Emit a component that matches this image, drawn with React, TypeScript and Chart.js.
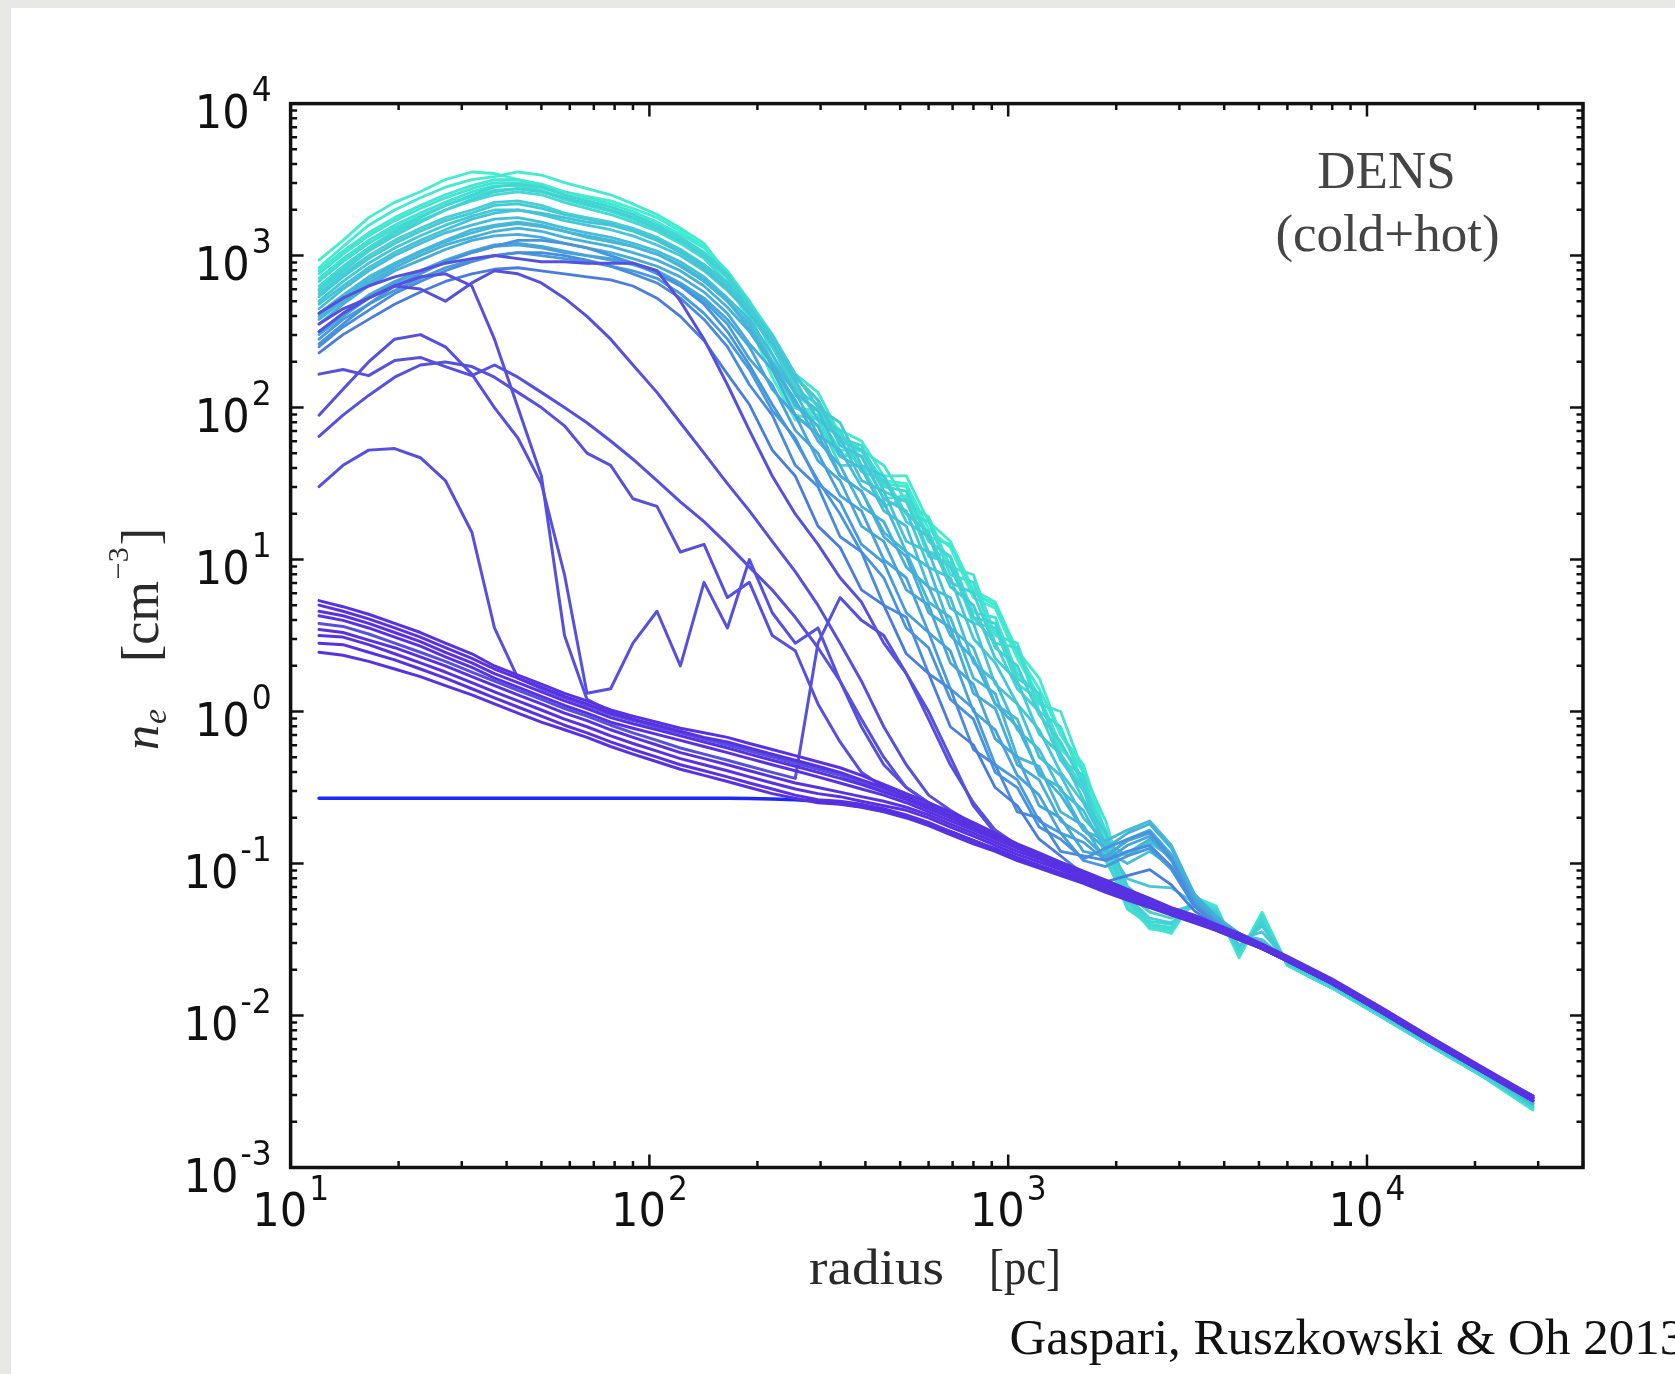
import React, { useEffect, useRef } from "react";
import { Chart, registerables } from "chart.js";

Chart.register(...registerables);

// ---------- axes ----------
const radiusPc = [
  12, 14, 16.5, 19.5, 23, 27, 32, 37, 43, 50,
  58, 67, 78, 90, 105, 122, 142, 165, 190, 220,
  255, 295, 340, 390, 450, 520, 600, 690, 800, 920,
  1060, 1220, 1400, 1620, 1870, 2150, 2480, 2850, 3300, 3800,
  4400, 5100, 6000, 8000, 11000, 15000, 21000, 29000,
];
const xTickExponents = [1, 2, 3, 4];
const yTickExponents = [-3, -2, -1, 0, 1, 2, 3, 4];
const xMin = 10;
const xMax = 40000;
const yMin = 1e-3;
const yMax = 1e4;

// ---------- log10(n_e) profiles ----------
const logNeInitial = [
  -0.57, -0.57, -0.57, -0.57, -0.57, -0.57, -0.57, -0.57, -0.57, -0.57,
  -0.57, -0.57, -0.57, -0.57, -0.57, -0.57, -0.57, -0.57, -0.572, -0.575,
  -0.58, -0.59, -0.605, -0.625, -0.655, -0.69, -0.74, -0.79, -0.85, -0.91,
  -0.97, -1.02, -1.07, -1.12, -1.17, -1.22, -1.27, -1.32, -1.37, -1.42,
  -1.48, -1.55, -1.63, -1.78, -1.97, -2.16, -2.36, -2.53,
];

const logNeHot1 = [
  0.73, 0.69, 0.64, 0.58, 0.52, 0.45, 0.38, 0.30, 0.24, 0.18,
  0.12, 0.07, 0.01, -0.03, -0.07, -0.11, -0.14, -0.17, -0.21, -0.25,
  -0.29, -0.33, -0.37, -0.42, -0.48, -0.54, -0.60, -0.66, -0.73, -0.80,
  -0.87, -0.93, -0.99, -1.05, -1.11, -1.17, -1.23, -1.29, -1.34, -1.40,
  -1.46, -1.53, -1.61, -1.76, -1.95, -2.14, -2.34, -2.53,
];
const logNeHot2 = [
  0.70, 0.66, 0.61, 0.55, 0.49, 0.42, 0.35, 0.28, 0.22, 0.16,
  0.10, 0.05, -0.01, -0.05, -0.09, -0.13, -0.17, -0.20, -0.24, -0.28,
  -0.32, -0.36, -0.40, -0.45, -0.50, -0.56, -0.62, -0.68, -0.75, -0.82,
  -0.88, -0.94, -1.00, -1.06, -1.12, -1.18, -1.24, -1.30, -1.35, -1.41,
  -1.47, -1.54, -1.62, -1.77, -1.96, -2.15, -2.35, -2.54,
];
const logNeHot3 = [
  0.66, 0.63, 0.58, 0.52, 0.46, 0.39, 0.32, 0.25, 0.19, 0.13,
  0.07, 0.02, -0.04, -0.08, -0.12, -0.16, -0.20, -0.24, -0.28, -0.32,
  -0.36, -0.40, -0.44, -0.48, -0.53, -0.58, -0.64, -0.70, -0.77, -0.83,
  -0.89, -0.95, -1.01, -1.07, -1.13, -1.19, -1.25, -1.31, -1.36, -1.42,
  -1.48, -1.55, -1.63, -1.78, -1.97, -2.16, -2.36, -2.55,
];
const logNeHot4 = [
  0.63, 0.60, 0.55, 0.49, 0.43, 0.36, 0.29, 0.22, 0.16, 0.10,
  0.04, -0.01, -0.07, -0.11, -0.15, -0.19, -0.23, -0.27, -0.31, -0.35,
  -0.39, -0.43, -0.47, -0.51, -0.55, -0.60, -0.66, -0.72, -0.78, -0.84,
  -0.90, -0.96, -1.02, -1.08, -1.14, -1.20, -1.26, -1.32, -1.37, -1.43,
  -1.49, -1.56, -1.64, -1.79, -1.98, -2.17, -2.37, -2.56,
];
const logNeHot5 = [
  0.54, 0.52, 0.47, 0.42, 0.36, 0.30, 0.23, 0.17, 0.11, 0.05,
  -0.01, -0.06, -0.12, -0.17, -0.22, -0.27, -0.31, -0.35, -0.39, -0.43,
  -0.47, -0.50, -0.53, -0.56, -0.59, -0.63, -0.68, -0.74, -0.80, -0.86,
  -0.92, -0.97, -1.03, -1.09, -1.15, -1.21, -1.26, -1.32, -1.37, -1.43,
  -1.49, -1.56, -1.64, -1.79, -1.98, -2.17, -2.37, -2.56,
];
const logNeHot6 = [
  0.50, 0.49, 0.44, 0.38, 0.32, 0.26, 0.19, 0.13, 0.07, 0.01,
  -0.05, -0.10, -0.16, -0.21, -0.26, -0.31, -0.35, -0.39, -0.43, -0.47,
  -0.51, -0.54, -0.56, -0.59, -0.62, -0.65, -0.70, -0.76, -0.82, -0.88,
  -0.94, -0.99, -1.04, -1.10, -1.16, -1.22, -1.27, -1.33, -1.38, -1.43,
  -1.49, -1.56, -1.64, -1.79, -1.98, -2.17, -2.37, -2.56,
];
const logNeHot7 = [
  0.45, 0.44, 0.39, 0.34, 0.28, 0.22, 0.15, 0.09, 0.03, -0.03,
  -0.09, -0.14, -0.20, -0.25, -0.30, -0.35, -0.39, -0.43, -0.47, -0.51,
  -0.55, -0.58, -0.59, -0.61, -0.64, -0.68, -0.73, -0.79, -0.85, -0.90,
  -0.96, -1.01, -1.06, -1.11, -1.17, -1.23, -1.28, -1.33, -1.38, -1.44,
  -1.50, -1.56, -1.64, -1.79, -1.98, -2.17, -2.37, -2.56,
];
const logNeHot8 = [
  0.39, 0.37, 0.33, 0.28, 0.23, 0.17, 0.11, 0.05, -0.01, -0.07,
  -0.12, -0.17, -0.23, -0.28, -0.33, -0.38, -0.42, -0.46, -0.50, -0.54,
  -0.57, -0.60, -0.61, -0.63, -0.66, -0.70, -0.75, -0.81, -0.87, -0.92,
  -0.98, -1.03, -1.08, -1.13, -1.19, -1.24, -1.29, -1.34, -1.39, -1.44,
  -1.50, -1.56, -1.64, -1.79, -1.98, -2.17, -2.37, -2.56,
];

const logNeMid1 = [
  1.48, 1.62, 1.72, 1.73, 1.67, 1.52, 1.18, 0.55, 0.22, 0.15,
  0.09, 0.04, -0.02, -0.06, -0.10, -0.14, -0.18, -0.21, -0.25, -0.29,
  -0.33, -0.37, -0.41, -0.46, -0.51, -0.57, -0.63, -0.69, -0.76, -0.82,
  -0.88, -0.94, -1.00, -1.06, -1.12, -1.18, -1.24, -1.30, -1.35, -1.41,
  -1.47, -1.54, -1.62, -1.77, -1.96, -2.15, -2.35, -2.54,
];
const logNeMid2 = [
  2.22, 2.25, 2.21, 2.31, 2.33, 2.27, 2.21, 2.28, 2.20, 2.10,
  2.00, 1.90, 1.78, 1.66, 1.52, 1.38, 1.25, 1.10, 0.95, 0.80,
  0.62, 0.42, 0.20, -0.05, -0.30, -0.50, -0.60, -0.67, -0.74, -0.81,
  -0.88, -0.94, -1.00, -1.06, -1.12, -1.18, -1.24, -1.30, -1.35, -1.41,
  -1.47, -1.54, -1.62, -1.77, -1.96, -2.15, -2.35, -2.54,
];
const logNeMid3 = [
  1.95, 2.12, 2.30, 2.45, 2.48, 2.40, 2.22, 2.00, 1.80, 1.50,
  0.90, 0.12, 0.15, 0.45, 0.66, 0.30, 0.85, 0.55, 1.00, 0.65,
  0.45, 0.55, 0.20, -0.10, -0.35, -0.50, -0.60, -0.67, -0.74, -0.81,
  -0.88, -0.94, -1.00, -1.06, -1.12, -1.18, -1.24, -1.30, -1.35, -1.41,
  -1.47, -1.54, -1.62, -1.77, -1.96, -2.15, -2.35, -2.54,
];
const logNeMid4 = [
  1.81, 1.95, 2.08, 2.20, 2.28, 2.30, 2.27, 2.20, 2.10, 2.00,
  1.88, 1.70, 1.62, 1.40, 1.35, 1.05, 1.10, 0.75, 0.85, 0.50,
  0.40, 0.05, -0.20, -0.40, -0.50, -0.56, -0.62, -0.68, -0.75, -0.81,
  -0.88, -0.94, -1.00, -1.06, -1.12, -1.18, -1.24, -1.30, -1.35, -1.41,
  -1.47, -1.54, -1.62, -1.77, -1.96, -2.15, -2.35, -2.54,
];
const logNeMid5 = [
  2.50, 2.62, 2.72, 2.80, 2.78, 2.70, 2.82, 2.90, 2.88, 2.82,
  2.72, 2.60, 2.45, 2.28, 2.10, 1.90, 1.70, 1.50, 1.32, 1.12,
  0.92, 0.70, 0.45, 0.20, -0.10, -0.35, -0.55, -0.65, -0.74, -0.81,
  -0.88, -0.94, -1.00, -1.06, -1.12, -1.18, -1.24, -1.30, -1.35, -1.41,
  -1.47, -1.54, -1.62, -1.77, -1.96, -2.15, -2.35, -2.54,
];
const logNeMid6 = [
  2.62, 2.72, 2.80, 2.86, 2.90, 2.95, 2.98, 3.00, 2.98, 2.96,
  2.96, 2.95, 2.95, 2.95, 2.90, 2.70, 2.45, 2.15, 1.85, 1.55,
  1.30, 1.10, 0.88, 0.72, 0.45, 0.25, -0.05, -0.35, -0.60, -0.78,
  -0.88, -0.94, -1.00, -1.06, -1.12, -1.18, -1.24, -1.30, -1.35, -1.41,
  -1.47, -1.54, -1.62, -1.77, -1.96, -2.15, -2.35, -2.54,
];
const logNeMid7 = [
  2.55, 2.65, 2.72, 2.80, 2.86, 2.88, 2.80, 2.45, 2.00, 1.55,
  0.50, 0.08, 0.00, -0.05, -0.10, -0.14, -0.18, -0.22, -0.26, -0.30,
  -0.34, -0.38, -0.42, -0.47, -0.52, -0.57, -0.63, -0.69, -0.75, -0.81,
  -0.88, -0.94, -1.00, -1.06, -1.12, -1.18, -1.24, -1.30, -1.35, -1.41,
  -1.47, -1.54, -1.62, -1.77, -1.96, -2.15, -2.35, -2.54,
];
const logNeMid8 = [
  0.58, 0.56, 0.51, 0.45, 0.39, 0.33, 0.26, 0.20, 0.14, 0.08,
  0.02, -0.03, -0.09, -0.14, -0.19, -0.24, -0.28, -0.32, -0.36, -0.40,
  -0.44, 0.45, 0.75, 0.60, 0.50, 0.25, 0.00, -0.30, -0.62, -0.80,
  -0.88, -0.94, -1.00, -1.06, -1.12, -1.18, -1.24, -1.30, -1.35, -1.41,
  -1.47, -1.54, -1.62, -1.77, -1.96, -2.15, -2.35, -2.54,
];

const logNeCold01 = [
  2.36, 2.48, 2.58, 2.68, 2.76, 2.83, 2.88, 2.91, 2.92, 2.90,
  2.88, 2.86, 2.84, 2.80, 2.72, 2.60, 2.44, 2.22, 2.02, 1.72,
  1.55, 1.22, 1.08, 0.80, 0.70, 0.38, 0.25, -0.10, -0.22, -0.50,
  -0.62, -0.84, -0.95, -1.07, -1.12, -1.08, -1.04, -1.14, -1.31, -1.41,
  -1.48, -1.55, -1.63, -1.78, -1.97, -2.16, -2.36, -2.55,
];
const logNeCold02 = [
  2.40, 2.53, 2.64, 2.75, 2.83, 2.90, 2.96, 3.00, 3.02, 3.02,
  3.00, 2.97, 2.93, 2.88, 2.82, 2.72, 2.58, 2.40, 2.15, 1.95,
  1.62, 1.48, 1.15, 1.05, 0.70, 0.62, 0.25, 0.15, -0.25, -0.35,
  -0.66, -0.70, -0.92, -0.95, -0.98, -0.92, -0.88, -1.02, -1.28, -1.40,
  -1.47, -1.55, -1.63, -1.78, -1.97, -2.16, -2.36, -2.56,
];
const logNeCold03 = [
  2.42, 2.55, 2.68, 2.80, 2.88, 2.96, 3.02, 3.06, 3.10, 3.10,
  3.08, 3.05, 3.00, 2.95, 2.88, 2.80, 2.68, 2.50, 2.28, 2.02,
  1.78, 1.52, 1.30, 1.05, 0.88, 0.55, 0.42, 0.08, -0.05, -0.40,
  -0.50, -0.76, -0.84, -0.97, -0.90, -0.84, -0.79, -0.97, -1.27, -1.39,
  -1.47, -1.54, -1.63, -1.78, -1.97, -2.16, -2.36, -2.56,
];
const logNeCold04 = [
  2.45, 2.58, 2.68, 2.77, 2.85, 2.92, 2.97, 3.00, 3.02, 3.00,
  2.98, 2.96, 2.93, 2.90, 2.85, 2.75, 2.62, 2.45, 2.25, 1.98,
  1.80, 1.50, 1.38, 1.10, 0.98, 0.65, 0.52, 0.15, 0.02, -0.35,
  -0.45, -0.72, -0.80, -0.98, -1.02, -0.95, -0.90, -1.04, -1.28, -1.40,
  -1.48, -1.55, -1.63, -1.78, -1.97, -2.16, -2.36, -2.56,
];
const logNeCold05 = [
  2.48, 2.60, 2.72, 2.82, 2.90, 2.96, 3.02, 3.06, 3.07, 3.05,
  3.02, 3.00, 2.97, 2.94, 2.89, 2.81, 2.70, 2.55, 2.32, 2.15,
  1.85, 1.70, 1.42, 1.32, 1.00, 0.88, 0.52, 0.40, 0.00, -0.12,
  -0.42, -0.55, -0.80, -0.86, -0.98, -0.88, -0.82, -0.98, -1.25, -1.38,
  -1.47, -1.54, -1.63, -1.78, -1.97, -2.16, -2.36, -2.56,
];
const logNeCold06 = [
  2.50, 2.62, 2.74, 2.83, 2.90, 2.97, 3.03, 3.07, 3.08, 3.06,
  3.03, 3.00, 2.98, 2.95, 2.90, 2.82, 2.72, 2.58, 2.40, 2.12,
  1.95, 1.65, 1.52, 1.22, 1.12, 0.80, 0.70, 0.32, 0.18, -0.18,
  -0.30, -0.62, -0.70, -0.92, -0.95, -0.85, -0.80, -0.95, -1.24, -1.37,
  -1.47, -1.54, -1.63, -1.78, -1.97, -2.16, -2.36, -2.56,
];
const logNeCold07 = [
  2.55, 2.68, 2.80, 2.90, 2.97, 3.04, 3.10, 3.13, 3.14, 3.12,
  3.08, 3.05, 3.02, 2.98, 2.93, 2.86, 2.76, 2.62, 2.42, 2.25,
  1.95, 1.82, 1.55, 1.45, 1.15, 1.02, 0.65, 0.55, 0.12, 0.02,
  -0.35, -0.45, -0.72, -0.82, -0.96, -0.84, -0.78, -0.94, -1.22, -1.36,
  -1.46, -1.54, -1.63, -1.78, -1.97, -2.16, -2.36, -2.56,
];
const logNeCold08 = [
  2.58, 2.70, 2.82, 2.92, 3.00, 3.07, 3.12, 3.16, 3.18, 3.16,
  3.12, 3.09, 3.06, 3.02, 2.97, 2.90, 2.80, 2.66, 2.50, 2.28,
  2.05, 1.78, 1.62, 1.35, 1.25, 0.95, 0.82, 0.50, 0.35, 0.05,
  -0.10, -0.40, -0.55, -0.78, -0.90, -0.80, -0.74, -0.90, -1.20, -1.35,
  -1.46, -1.53, -1.63, -1.78, -1.97, -2.16, -2.36, -2.57,
];
const logNeCold09 = [
  2.60, 2.72, 2.84, 2.94, 3.02, 3.09, 3.15, 3.19, 3.21, 3.19,
  3.16, 3.13, 3.10, 3.06, 3.01, 2.93, 2.83, 2.70, 2.52, 2.28,
  2.02, 1.88, 1.55, 1.45, 1.18, 1.05, 0.72, 0.62, 0.22, 0.12,
  -0.30, -0.36, -0.66, -0.75, -0.98, -0.93, -0.84, -0.95, -1.22, -1.36,
  -1.47, -1.52, -1.64, -1.79, -1.98, -2.17, -2.37, -2.58,
];
const logNeCold10 = [
  2.62, 2.74, 2.86, 2.95, 3.03, 3.10, 3.17, 3.20, 3.22, 3.20,
  3.16, 3.12, 3.09, 3.06, 3.01, 2.94, 2.84, 2.70, 2.55, 2.30,
  2.10, 1.82, 1.72, 1.48, 1.38, 1.05, 0.95, 0.55, 0.42, 0.05,
  -0.05, -0.42, -0.50, -0.78, -0.85, -0.78, -0.72, -0.88, -1.20, -1.35,
  -1.46, -1.54, -1.63, -1.78, -1.97, -2.16, -2.36, -2.57,
];
const logNeCold11 = [
  2.65, 2.78, 2.90, 3.00, 3.08, 3.15, 3.20, 3.24, 3.25, 3.22,
  3.18, 3.15, 3.12, 3.08, 3.03, 2.96, 2.86, 2.72, 2.58, 2.35,
  2.10, 1.98, 1.68, 1.60, 1.32, 1.22, 0.82, 0.75, 0.32, 0.20,
  -0.12, -0.25, -0.52, -0.65, -0.92, -1.00, -0.92, -1.02, -1.24, -1.36,
  -1.46, -1.54, -1.63, -1.78, -1.97, -2.16, -2.36, -2.57,
];
const logNeCold12 = [
  2.68, 2.80, 2.92, 3.02, 3.10, 3.17, 3.24, 3.28, 3.30, 3.28,
  3.25, 3.22, 3.20, 3.16, 3.10, 3.02, 2.92, 2.78, 2.62, 2.42,
  2.18, 1.92, 1.80, 1.52, 1.45, 1.12, 1.05, 0.68, 0.58, 0.18,
  0.05, -0.30, -0.42, -0.70, -0.86, -0.95, -0.86, -0.96, -1.23, -1.36,
  -1.47, -1.50, -1.64, -1.79, -1.98, -2.17, -2.37, -2.58,
];
const logNeCold13 = [
  2.70, 2.83, 2.95, 3.05, 3.13, 3.20, 3.26, 3.30, 3.30, 3.27,
  3.23, 3.20, 3.17, 3.13, 3.07, 3.00, 2.90, 2.77, 2.62, 2.45,
  2.20, 2.05, 1.75, 1.68, 1.40, 1.32, 0.95, 0.88, 0.48, 0.32,
  0.05, -0.12, -0.40, -0.60, -0.88, -1.10, -1.15, -1.16, -1.26, -1.35,
  -1.50, -1.45, -1.64, -1.79, -1.98, -2.17, -2.37, -2.58,
];
const logNeCold14 = [
  2.73, 2.86, 2.98, 3.08, 3.16, 3.23, 3.28, 3.33, 3.34, 3.31,
  3.27, 3.24, 3.21, 3.17, 3.11, 3.04, 2.94, 2.82, 2.65, 2.48,
  2.22, 2.00, 1.90, 1.62, 1.55, 1.25, 1.15, 0.82, 0.70, 0.35,
  0.20, -0.15, -0.28, -0.58, -0.80, -1.15, -1.28, -1.32, -1.27, -1.32,
  -1.54, -1.41, -1.65, -1.80, -1.99, -2.18, -2.38, -2.59,
];
const logNeCold15 = [
  2.75, 2.88, 3.00, 3.10, 3.18, 3.25, 3.30, 3.35, 3.36, 3.33,
  3.28, 3.25, 3.22, 3.18, 3.12, 3.04, 2.94, 2.80, 2.62, 2.40,
  2.12, 2.02, 1.78, 1.72, 1.45, 1.38, 1.05, 0.95, 0.62, 0.45,
  0.15, 0.00, -0.32, -0.52, -0.88, -1.20, -1.32, -1.36, -1.28, -1.32,
  -1.55, -1.40, -1.65, -1.80, -1.99, -2.18, -2.38, -2.59,
];
const logNeCold16 = [
  2.77, 2.90, 3.03, 3.13, 3.22, 3.30, 3.37, 3.42, 3.44, 3.42,
  3.38, 3.34, 3.30, 3.25, 3.18, 3.10, 3.00, 2.86, 2.66, 2.42,
  2.15, 1.92, 1.85, 1.58, 1.52, 1.30, 1.18, 0.85, 0.78, 0.42,
  0.30, -0.02, -0.20, -0.48, -0.90, -1.22, -1.36, -1.39, -1.26, -1.32,
  -1.56, -1.39, -1.66, -1.81, -2.00, -2.19, -2.39, -2.60,
];
const logNeCold17 = [
  2.78, 2.92, 3.05, 3.16, 3.25, 3.33, 3.40, 3.45, 3.47, 3.45,
  3.40, 3.36, 3.32, 3.27, 3.20, 3.12, 3.02, 2.88, 2.68, 2.45,
  2.20, 2.05, 1.80, 1.75, 1.48, 1.45, 1.12, 1.02, 0.62, 0.58,
  0.22, 0.12, -0.32, -0.42, -0.98, -1.25, -1.38, -1.40, -1.26, -1.32,
  -1.57, -1.38, -1.66, -1.81, -2.00, -2.19, -2.39, -2.60,
];
const logNeCold18 = [
  2.80, 2.93, 3.05, 3.15, 3.23, 3.30, 3.36, 3.40, 3.42, 3.40,
  3.35, 3.31, 3.27, 3.22, 3.16, 3.08, 2.98, 2.82, 2.60, 2.30,
  2.00, 1.92, 1.62, 1.62, 1.35, 1.40, 1.02, 0.98, 0.58, 0.55,
  0.18, 0.08, -0.28, -0.50, -0.95, -1.30, -1.40, -1.42, -1.25, -1.30,
  -1.58, -1.36, -1.66, -1.81, -2.00, -2.19, -2.39, -2.60,
];
const logNeCold19 = [
  2.83, 2.96, 3.08, 3.18, 3.26, 3.33, 3.39, 3.43, 3.44, 3.42,
  3.37, 3.33, 3.29, 3.24, 3.17, 3.09, 2.99, 2.86, 2.70, 2.42,
  2.08, 1.98, 1.78, 1.60, 1.55, 1.30, 1.25, 0.90, 0.85, 0.45,
  0.42, 0.00, -0.10, -0.48, -0.78, -1.25, -1.40, -1.43, -1.24, -1.30,
  -1.59, -1.35, -1.66, -1.81, -2.00, -2.19, -2.39, -2.60,
];
const logNeCold20 = [
  2.85, 2.98, 3.10, 3.20, 3.28, 3.35, 3.42, 3.46, 3.46, 3.43,
  3.38, 3.34, 3.30, 3.25, 3.18, 3.10, 3.00, 2.85, 2.62, 2.25,
  1.95, 1.92, 1.68, 1.68, 1.40, 1.42, 1.05, 1.02, 0.65, 0.62,
  0.25, 0.10, -0.22, -0.45, -0.90, -1.28, -1.42, -1.44, -1.24, -1.30,
  -1.60, -1.34, -1.67, -1.82, -2.01, -2.20, -2.40, -2.61,
];
const logNeCold21 = [
  2.88, 3.01, 3.13, 3.23, 3.31, 3.38, 3.44, 3.48, 3.48, 3.45,
  3.40, 3.36, 3.32, 3.27, 3.20, 3.12, 3.02, 2.88, 2.70, 2.48,
  2.22, 2.10, 1.82, 1.72, 1.62, 1.38, 1.28, 0.95, 0.90, 0.50,
  0.45, 0.05, 0.00, -0.40, -0.72, -1.20, -1.42, -1.45, -1.23, -1.30,
  -1.61, -1.34, -1.67, -1.82, -2.01, -2.20, -2.40, -2.61,
];
const logNeCold22 = [
  2.90, 3.03, 3.15, 3.25, 3.33, 3.40, 3.46, 3.50, 3.50, 3.47,
  3.42, 3.38, 3.34, 3.29, 3.22, 3.14, 3.05, 2.90, 2.70, 2.35,
  2.00, 1.95, 1.72, 1.72, 1.50, 1.48, 1.15, 1.10, 0.78, 0.70,
  0.38, 0.15, -0.15, -0.40, -0.85, -1.25, -1.43, -1.45, -1.23, -1.30,
  -1.62, -1.33, -1.67, -1.82, -2.01, -2.20, -2.40, -2.62,
];
const logNeCold23 = [
  2.92, 3.06, 3.20, 3.30, 3.38, 3.45, 3.50, 3.52, 3.55, 3.53,
  3.48, 3.44, 3.40, 3.34, 3.27, 3.18, 3.08, 2.88, 2.62, 2.28,
  2.00, 1.98, 1.85, 1.78, 1.55, 1.55, 1.25, 1.12, 0.80, 0.72,
  0.40, 0.22, -0.15, -0.35, -0.80, -1.20, -1.42, -1.46, -1.22, -1.28,
  -1.60, -1.32, -1.67, -1.82, -2.01, -2.20, -2.40, -2.62,
];
const logNeCold24 = [
  2.97, 3.10, 3.25, 3.35, 3.42, 3.50, 3.55, 3.54, 3.50, 3.46,
  3.42, 3.39, 3.36, 3.31, 3.25, 3.16, 3.06, 2.85, 2.55, 2.20,
  1.92, 1.88, 1.68, 1.72, 1.52, 1.50, 1.20, 1.08, 0.75, 0.68,
  0.35, 0.10, -0.25, -0.38, -0.88, -1.22, -1.40, -1.44, -1.22, -1.30,
  -1.60, -1.33, -1.67, -1.82, -2.01, -2.20, -2.40, -2.62,
];

const hotProfiles = [
  logNeHot1, logNeHot2, logNeHot3, logNeHot4,
  logNeHot5, logNeHot6, logNeHot7, logNeHot8,
];
const midProfiles = [
  logNeMid1, logNeMid2, logNeMid3, logNeMid4,
  logNeMid5, logNeMid6, logNeMid7, logNeMid8,
];
const coldProfiles = [
  logNeCold01, logNeCold02, logNeCold03, logNeCold04,
  logNeCold05, logNeCold06, logNeCold07, logNeCold08,
  logNeCold09, logNeCold10, logNeCold11, logNeCold12,
  logNeCold13, logNeCold14, logNeCold15, logNeCold16,
  logNeCold17, logNeCold18, logNeCold19, logNeCold20,
  logNeCold21, logNeCold22, logNeCold23, logNeCold24,
];

// ---------- text ----------
const xTitle = ["radius", "[pc]"];
const yTitleParts = ["n", "e", "[cm", "\u22123", "]"];
const panelLabel = ["DENS", "(cold+hot)"];
const creditText = "Gaspari, Ruszkowski & Oh 2013";

// ---------- drawing helpers ----------
const TICK_HS = 0.92;
const TICK_BASE_FONT = '47px "DejaVu Sans"';
const TICK_SUP_FONT = '34px "DejaVu Sans"';
const SERIF = '"Liberation Serif", "DejaVu Serif", serif';

function measure(ctx: CanvasRenderingContext2D, text: string, font: string) {
  ctx.save();
  ctx.font = font;
  const w = ctx.measureText(text).width;
  ctx.restore();
  return w;
}

function drawScaled(
  ctx: CanvasRenderingContext2D,
  text: string,
  x: number,
  y: number,
  font: string,
  hs: number,
  color: string
) {
  ctx.save();
  ctx.font = font;
  ctx.fillStyle = color;
  ctx.textAlign = "left";
  ctx.textBaseline = "alphabetic";
  ctx.translate(x, y);
  ctx.scale(hs, 1);
  ctx.fillText(text, 0, 0);
  ctx.restore();
}

function drawPower(
  ctx: CanvasRenderingContext2D,
  exp: number,
  anchorX: number,
  baseY: number,
  supY: number,
  align: "right" | "center"
) {
  const supText = exp < 0 ? "-" + Math.abs(exp) : String(exp);
  const bw = measure(ctx, "10", TICK_BASE_FONT) * TICK_HS;
  const sw = measure(ctx, supText, TICK_SUP_FONT) * TICK_HS;
  const gap = 2;
  const total = bw + gap + sw;
  const x0 = align === "right" ? anchorX - total : anchorX - total / 2;
  drawScaled(ctx, "10", x0, baseY, TICK_BASE_FONT, TICK_HS, "#111");
  drawScaled(ctx, supText, x0 + bw + gap, supY, TICK_SUP_FONT, TICK_HS, "#111");
}

function drawFit(
  ctx: CanvasRenderingContext2D,
  text: string,
  x: number,
  y: number,
  font: string,
  width: number,
  color: string
) {
  const w = measure(ctx, text, font);
  drawScaled(ctx, text, x, y, font, width / w, color);
}

const decorPlugin = {
  id: "decor",
  beforeDraw(chart: any) {
    const ctx: CanvasRenderingContext2D = chart.ctx;
    ctx.save();
    ctx.fillStyle = "#e7e7e3";
    ctx.fillRect(0, 0, chart.width, chart.height);
    ctx.fillStyle = "#ffffff";
    ctx.fillRect(11, 8, chart.width - 11, chart.height - 8);
    ctx.restore();
  },
  afterDraw(chart: any) {
    const ctx: CanvasRenderingContext2D = chart.ctx;
    const { left, right, top, bottom } = chart.chartArea;
    const xs = chart.scales.x;
    const ys = chart.scales.y;
    ctx.save();
    ctx.strokeStyle = "#111";
    ctx.lineCap = "butt";

    // ticks (inward, all four sides)
    ctx.lineWidth = 2.5;
    const mults = [1, 2, 3, 4, 5, 6, 7, 8, 9];
    xTickExponents.forEach((e) => {
      mults.forEach((m) => {
        const v = m * Math.pow(10, e);
        if (v < xMin || v > xMax) return;
        const px = xs.getPixelForValue(v);
        const len = m === 1 ? 13 : 6.5;
        ctx.beginPath();
        ctx.moveTo(px, bottom);
        ctx.lineTo(px, bottom - len);
        ctx.moveTo(px, top);
        ctx.lineTo(px, top + len);
        ctx.stroke();
      });
    });
    yTickExponents.forEach((e) => {
      mults.forEach((m) => {
        const v = m * Math.pow(10, e);
        if (v < yMin || v > yMax) return;
        const py = ys.getPixelForValue(v);
        const len = m === 1 ? 13 : 6.5;
        ctx.beginPath();
        ctx.moveTo(left, py);
        ctx.lineTo(left + len, py);
        ctx.moveTo(right, py);
        ctx.lineTo(right - len, py);
        ctx.stroke();
      });
    });

    // frame
    ctx.lineWidth = 3.5;
    ctx.strokeRect(left, top, right - left, bottom - top);
    ctx.restore();

    // tick labels
    yTickExponents.forEach((e) => {
      const py = ys.getPixelForValue(Math.pow(10, e));
      drawPower(ctx, e, left - 19, py + 24, py - 3, "right");
    });
    xTickExponents.forEach((e) => {
      const px = xs.getPixelForValue(Math.pow(10, e));
      drawPower(ctx, e, px, bottom + 58, bottom + 32, "center");
    });

    // x axis title
    const titleFont = `50px ${SERIF}`;
    drawFit(ctx, xTitle[0], 809, 1284, titleFont, 135, "#2a2a2a");
    drawFit(ctx, xTitle[1], 989, 1284, titleFont, 72, "#2a2a2a");

    // y axis title (rotated)
    ctx.save();
    ctx.translate(158, 750);
    ctx.rotate(-Math.PI / 2);
    ctx.fillStyle = "#2a2a2a";
    ctx.textBaseline = "alphabetic";
    ctx.textAlign = "left";
    let u = 0;
    ctx.font = `italic 50px ${SERIF}`;
    ctx.fillText(yTitleParts[0], u, 0);
    u += ctx.measureText(yTitleParts[0]).width;
    ctx.font = `italic 34px ${SERIF}`;
    ctx.fillText(yTitleParts[1], u + 1, 8);
    u = 88;
    ctx.font = `52px ${SERIF}`;
    ctx.fillText(yTitleParts[2], u, 0);
    u += ctx.measureText(yTitleParts[2]).width;
    ctx.font = `30px ${SERIF}`;
    ctx.fillText(yTitleParts[3], u + 2, -30);
    u += ctx.measureText(yTitleParts[3]).width + 4;
    ctx.font = `52px ${SERIF}`;
    ctx.fillText(yTitleParts[4], u, 0);
    ctx.restore();

    // panel label
    ctx.save();
    ctx.fillStyle = "#444";
    ctx.textAlign = "center";
    ctx.textBaseline = "alphabetic";
    ctx.font = `53px ${SERIF}`;
    ctx.fillText(panelLabel[0], 1386.5, 188);
    ctx.fillText(panelLabel[1], 1387.5, 251);
    ctx.restore();

    // credit
    ctx.save();
    ctx.fillStyle = "#111";
    ctx.textAlign = "left";
    ctx.textBaseline = "alphabetic";
    ctx.font = `51px ${SERIF}`;
    ctx.fillText(creditText, 1009.5, 1354);
    ctx.restore();
  },
};

function mix(a: number[], b: number[], t: number) {
  return `rgb(${Math.round(a[0] + (b[0] - a[0]) * t)}, ${Math.round(
    a[1] + (b[1] - a[1]) * t
  )}, ${Math.round(a[2] + (b[2] - a[2]) * t)})`;
}

export default function App() {
  const ref = useRef<HTMLCanvasElement>(null);

  useEffect(() => {
    const canvas = ref.current;
    if (!canvas) return;
    document.body.style.overflow = "hidden";

    const toPoints = (vals: number[]) =>
      radiusPc.map((r, i) => ({ x: r, y: Math.pow(10, vals[i]) }));
    const mk = (vals: number[], color: string, width = 3) => ({
      data: toPoints(vals),
      borderColor: color,
      backgroundColor: color,
      borderWidth: width,
      pointRadius: 0,
      fill: false,
      tension: 0,
      borderJoinStyle: "round" as const,
      borderCapStyle: "round" as const,
    });

    const datasets: any[] = [];
    hotProfiles.forEach((v) => datasets.push(mk(v, "rgb(88, 50, 226)")));
    datasets.push(mk(logNeInitial, "rgb(28, 40, 252)", 3.5));
    midProfiles.forEach((v) => datasets.push(mk(v, "rgb(86, 80, 222)")));
    coldProfiles.forEach((v, i) => {
      const t = Math.pow(i / (coldProfiles.length - 1), 0.65);
      datasets.push(mk(v, mix([74, 124, 224], [64, 238, 208], t), 2.8));
    });

    const chart = new Chart(canvas, {
      type: "line",
      data: { datasets },
      options: {
        animation: false,
        responsive: false,
        devicePixelRatio: 1,
        events: [],
        layout: { padding: { left: 0, right: 92, top: 103.6, bottom: 0 } },
        plugins: {
          legend: { display: false },
          tooltip: { enabled: false },
          title: { display: false },
        },
        scales: {
          x: {
            type: "logarithmic",
            min: xMin,
            max: xMax,
            ticks: { display: false },
            grid: { display: false },
            border: { display: false },
            afterFit: (s: any) => {
              s.height = 206.5;
            },
          },
          y: {
            type: "logarithmic",
            min: yMin,
            max: yMax,
            ticks: { display: false },
            grid: { display: false },
            border: { display: false },
            afterFit: (s: any) => {
              s.width = 290.6;
            },
          },
        },
      } as any,
      plugins: [decorPlugin],
    });

    return () => chart.destroy();
  }, []);

  return (
    <canvas
      ref={ref}
      width={1675}
      height={1374}
      style={{ position: "absolute", left: 0, top: 0, display: "block" }}
    />
  );
}
